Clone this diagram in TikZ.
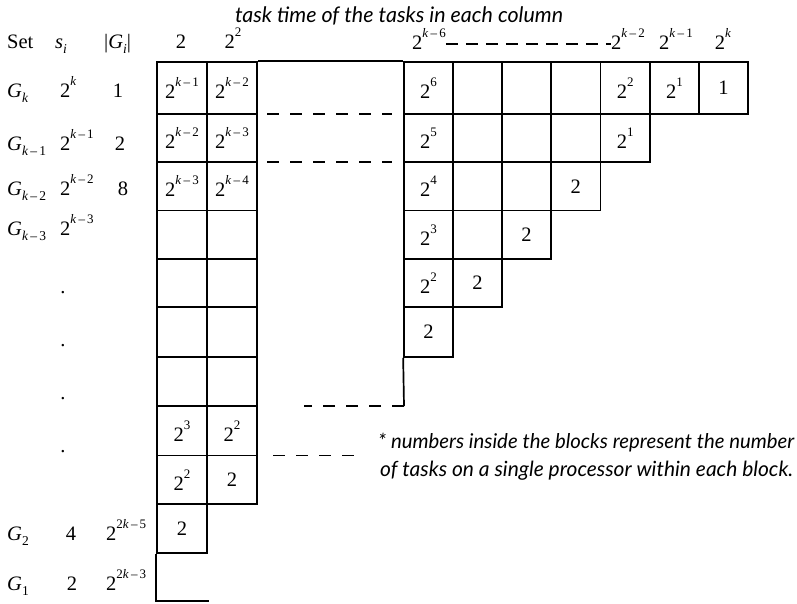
\documentclass[tikz,border=0pt]{standalone}
\usepackage{fontspec}
\setmainfont{Liberation Serif}
\newfontfamily\notefont{Lato}

% power of two with a raised exponent
\newcommand\pw[1]{2\raisebox{0.58em}{\fontsize{13}{13}\selectfont #1}}
% lowered index
\newcommand\ix[1]{\raisebox{-0.28em}{\fontsize{13.5}{14}\selectfont #1}}
\newcommand\kk{\textit{k}}
\newcommand\mn{\,–\,}

% one block of the grid, given its corners
\newcommand\blk[6]{%
  \pgfmathsetmacro\blkwd{#4-#2}\pgfmathsetmacro\blkht{#5-#3}%
  \node[blockcell, minimum width=\blkwd pt, minimum height=\blkht pt] (#1)
    at ({(#2+#4)/2},{(#3+#5)/2}) {#6};}

\begin{document}
\fontsize{20.5}{24}\selectfont
\begin{tikzpicture}[x=1pt,y=-1pt,
  blockcell/.style={draw, line width=1.7pt, rectangle, inner sep=0pt},
  gridline/.style={line width=1.7pt},
  gap/.style={line width=1.7pt, dash pattern=on 12pt off 11pt},
  lbl/.style={inner sep=0pt, anchor=base},
  lblw/.style={inner sep=0pt, anchor=base west},
  notetext/.style={inner sep=0pt, font=\notefont\itshape\fontsize{21}{24}\selectfont}]
\useasboundingbox (0,0) rectangle (797,603);

% row boundaries
\def\rowA{62}\def\rowB{114}\def\rowC{162}\def\rowD{210.5}\def\rowE{259}\def\rowF{307}
\def\rowG{357}\def\rowH{406}\def\rowI{455.5}\def\rowJ{504}\def\rowK{553}\def\rowL{601}
% left grid columns
\def\lcA{157}\def\lcB{207}\def\lcC{257}
% right grid columns
\def\rcA{404}\def\rcB{453}\def\rcC{502}\def\rcD{551}\def\rcE{600.5}\def\rcF{650}\def\rcG{699}\def\rcH{748}

% ---- heading ----
\node[notetext, anchor=base] (title) at (399,22) {\resizebox{328pt}{!}{task time of the tasks in each column}};
\node[lblw] (hset) at (7,48) {Set};
\node[lblw] (hs) at (55,48) {\textit{s}\ix{\textit{i}}};
\node[lblw] (hg) at (104,48) {|\textit{G}\ix{\textit{i}}|};
\node[lbl] (c1) at (181,48) {2};
\node[lbl] (c2) at (233,48) {\pw{2}};
\node[lbl] (ck6) at (429,49) {\pw{\kk\mn6}};
\node[lbl] (ck2) at (628,49) {\pw{\kk\mn2}};
\node[lbl] (ck1) at (676,49) {\pw{\kk\mn1}};
\node[lbl] (ck) at (723,49) {\pw{\kk}};
\draw[line width=1.7pt, dash pattern=on 12pt off 8pt] (ck6.east |- 0,44) -- (ck2.west |- 0,44);

% ---- row labels ----
\node[lblw] (gk) at (7,97) {\textit{G}\ix{\kk}};
\node[lblw] (sk) at (60,97) {\pw{\kk}};
\node[lbl] (nk) at (118,97) {1};
\node[lblw] (gk1) at (7,150) {\textit{G}\ix{\kk\mn1}};
\node[lblw] (sk1) at (60,150) {\pw{\kk\mn1}};
\node[lbl] (nk1) at (120,150) {2};
\node[lblw] (gk2) at (7,195) {\textit{G}\ix{\kk\mn2}};
\node[lblw] (sk2) at (60,195) {\pw{\kk\mn2}};
\node[lbl] (nk2) at (123,195) {8};
\node[lblw] (gk3) at (7,235) {\textit{G}\ix{\kk\mn3}};
\node[lblw] (sk3) at (60,235) {\pw{\kk\mn3}};
\node[lbl] (d1) at (63,293) {.};
\node[lbl] (d2) at (63,346) {.};
\node[lbl] (d3) at (63,399) {.};
\node[lbl] (d4) at (63,452) {.};
\node[lblw] (g2) at (7,540) {\textit{G}\ix{2}};
\node[lbl] (s2) at (71,540) {4};
\node[lblw] (n2) at (106,540) {\pw{2\kk\mn5}};
\node[lblw] (g1) at (7,590) {\textit{G}\ix{1}};
\node[lbl] (s1) at (72,590) {2};
\node[lblw] (n1) at (106,590) {\pw{2\kk\mn3}};

% ---- left grid ----
\blk{L11}{\lcA}{\rowA}{\lcB}{\rowB}{\pw{\kk\mn1}}
\blk{L12}{\lcB}{\rowA}{\lcC}{\rowB}{\pw{\kk\mn2}}
\blk{L21}{\lcA}{\rowB}{\lcB}{\rowC}{\pw{\kk\mn2}}
\blk{L22}{\lcB}{\rowB}{\lcC}{\rowC}{\pw{\kk\mn3}}
\blk{L31}{\lcA}{\rowC}{\lcB}{\rowD}{\pw{\kk\mn3}}
\blk{L32}{\lcB}{\rowC}{\lcC}{\rowD}{\pw{\kk\mn4}}
\blk{L41}{\lcA}{\rowD}{\lcB}{\rowE}{}
\blk{L42}{\lcB}{\rowD}{\lcC}{\rowE}{}
\blk{L51}{\lcA}{\rowE}{\lcB}{\rowF}{}
\blk{L52}{\lcB}{\rowE}{\lcC}{\rowF}{}
\blk{L61}{\lcA}{\rowF}{\lcB}{\rowG}{}
\blk{L62}{\lcB}{\rowF}{\lcC}{\rowG}{}
\blk{L71}{\lcA}{\rowG}{\lcB}{\rowH}{}
\blk{L72}{\lcB}{\rowG}{\lcC}{\rowH}{}
\blk{L81}{\lcA}{\rowH}{\lcB}{\rowI}{\pw{3}}
\blk{L82}{\lcB}{\rowH}{\lcC}{\rowI}{\pw{2}}
\blk{L91}{\lcA}{\rowI}{\lcB}{\rowJ}{\pw{2}}
\blk{L92}{\lcB}{\rowI}{\lcC}{\rowJ}{2}
\blk{L101}{\lcA}{\rowJ}{\lcB}{\rowK}{2}
% open last block
\coordinate (Lend) at (\lcB+2,\rowL);
\draw[gridline] (L101.south west) -- (L101.south west |- Lend) -- (Lend);

% ---- right grid ----
\blk{R11}{\rcA}{\rowA}{\rcB}{\rowB}{\pw{6}}
\blk{R12}{\rcB}{\rowA}{\rcC}{\rowB}{}
\blk{R13}{\rcC}{\rowA}{\rcD}{\rowB}{}
\blk{R14}{\rcD}{\rowA}{\rcE}{\rowB}{}
\blk{R15}{\rcE}{\rowA}{\rcF}{\rowB}{\pw{2}}
\blk{R16}{\rcF}{\rowA}{\rcG}{\rowB}{\pw{1}}
\blk{R17}{\rcG}{\rowA}{\rcH}{\rowB}{1}
\blk{R21}{\rcA}{\rowB}{\rcB}{\rowC}{\pw{5}}
\blk{R22}{\rcB}{\rowB}{\rcC}{\rowC}{}
\blk{R23}{\rcC}{\rowB}{\rcD}{\rowC}{}
\blk{R24}{\rcD}{\rowB}{\rcE}{\rowC}{}
\blk{R25}{\rcE}{\rowB}{\rcF}{\rowC}{\pw{1}}
\blk{R31}{\rcA}{\rowC}{\rcB}{\rowD}{\pw{4}}
\blk{R32}{\rcB}{\rowC}{\rcC}{\rowD}{}
\blk{R33}{\rcC}{\rowC}{\rcD}{\rowD}{}
\blk{R34}{\rcD}{\rowC}{\rcE}{\rowD}{2}
\blk{R41}{\rcA}{\rowD}{\rcB}{\rowE}{\pw{3}}
\blk{R42}{\rcB}{\rowD}{\rcC}{\rowE}{}
\blk{R43}{\rcC}{\rowD}{\rcD}{\rowE}{2}
\blk{R51}{\rcA}{\rowE}{\rcB}{\rowF}{\pw{2}}
\blk{R52}{\rcB}{\rowE}{\rcC}{\rowF}{2}
\blk{R61}{\rcA}{\rowF}{\rcB}{\rowG}{2}
\coordinate (Rend) at (\rcA,\rowH);
\draw[gridline] (R61.south west) -- (Rend);

% top edge joining both grids
\draw[gridline] (L12.north east) -- (R11.north west);

% ---- breaks between the grids ----
\coordinate (ga1) at (267,\rowB); \coordinate (gb1) at (392,\rowB);
\coordinate (ga2) at (267,\rowC); \coordinate (gb2) at (392,\rowC);
\coordinate (ga3) at (304,\rowH);
\coordinate (ga4) at (273,\rowI); \coordinate (gb4) at (355,\rowI);
\draw[gap] (ga1) -- (gb1);
\draw[gap] (ga2) -- (gb2);
\draw[gap] (Rend) -- (ga3);
\draw[gap] (ga4) -- (gb4);

% ---- note ----
\node[notetext, anchor=base west] (note1) at (378,448) {\resizebox{416pt}{!}{* numbers inside the blocks represent the number}};
\node[notetext, anchor=base west] (note2) at (380,476) {\resizebox{413pt}{!}{of tasks on a single processor within each block.}};
\end{tikzpicture}
\end{document}
